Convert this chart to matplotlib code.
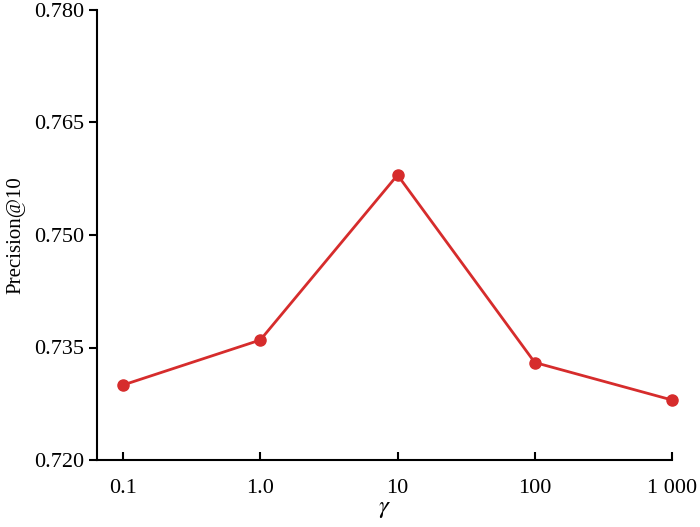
import matplotlib
matplotlib.use("Agg")
import matplotlib.pyplot as plt

gamma_labels = ["0.1", "1.0", "10", "100", "1 000"]
precision = [0.730, 0.736, 0.758, 0.733, 0.728]
y_ticks = [0.720, 0.735, 0.750, 0.765, 0.780]

plt.rcParams['font.family'] = ['Liberation Serif', 'DejaVu Serif']
plt.rcParams['mathtext.fontset'] = 'stix'

fig = plt.figure(figsize=(7, 5.27), dpi=100)
ax = fig.add_axes([97 / 700, 1 - 460 / 527, 575 / 700, 450 / 527])

x = list(range(len(gamma_labels)))
ax.plot(x, precision, color="#d62c2c", lw=2, marker="o", ms=8, clip_on=False, zorder=3)

ax.set_xlim(-0.19, 4.0)
ax.set_ylim(0.720, 0.780)
ax.set_xticks(x)
ax.set_xticklabels(gamma_labels)
ax.set_yticks(y_ticks)
ax.set_yticklabels(["%.3f" % v for v in y_ticks])

ax.spines["top"].set_visible(False)
ax.spines["right"].set_visible(False)
ax.spines["left"].set_linewidth(1.5)
ax.spines["bottom"].set_linewidth(1.5)
ax.tick_params(axis="y", direction="out", length=6, width=1.5, labelsize=16)
ax.tick_params(axis="x", direction="in", length=6, width=1.5, labelsize=16, pad=14)

ax.set_ylabel("Precision@10", fontsize=15, labelpad=6)
ax.set_xlabel(r"$\gamma$", fontsize=18, labelpad=0)

fig.savefig("out.png", dpi=100)
